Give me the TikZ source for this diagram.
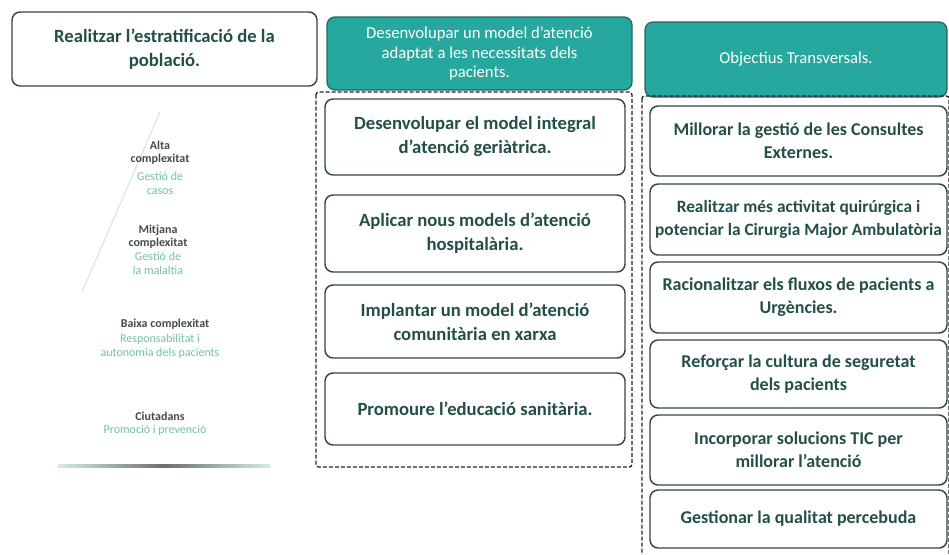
\documentclass[tikz,border=0pt]{standalone}
\usepackage{fontspec}
\setmainfont{Carlito}
\usepackage{tikz}
\usetikzlibrary{calc}

\definecolor{tealhead}{RGB}{38,168,158}
\definecolor{tealedge}{RGB}{45,100,95}
\definecolor{boxline}{RGB}{50,72,68}
\definecolor{goaltext}{RGB}{35,78,74}
\definecolor{pyrgrey}{RGB}{70,75,75}
\definecolor{pyrgreen}{RGB}{110,195,160}

\begin{document}
\begin{tikzpicture}[x=0.75pt,y=-0.75pt,
    goal/.style={draw=boxline, line width=1.1pt, rounded corners=6pt, fill=white,
      align=center, text=goaltext, minimum width=225pt,
      font=\bfseries\fontsize{14}{18}\selectfont},
    sidegoal/.style={goal, minimum width=222.75pt, font=\bfseries\fontsize{13.5}{17.5}\selectfont},
    header/.style={draw=tealedge, line width=1pt, rounded corners=6pt, fill=tealhead,
      align=center, text=white, font=\fontsize{12.5}{14.5}\selectfont},
    frame/.style={draw=black!85, line width=1pt, dash pattern=on 3pt off 1.5pt, rounded corners=2pt},
    pyrbold/.style={text=pyrgrey, font=\bfseries\fontsize{9}{10}\selectfont, align=center},
    pyrsub/.style={text=pyrgreen, font=\fontsize{9}{10.5}\selectfont, align=center}]
    \useasboundingbox (0,0) rectangle (949,554);

    \node[goal, minimum width=228.75pt, minimum height=55.5pt] (estrat) at (164.5,49)
      {Realitzar l'estratificació de la\\població.};

    \draw[black!12, line width=0.8pt] (160,112) -- (82,292);
    \node[pyrbold] (altatit) at (160,153) {Alta\\complexitat};
    \node[pyrsub] (altasub) at (160,183) {Gestió de\\casos};
    \node[pyrbold] (mitjtit) at (158,237) {Mitjana\\complexitat};
    \node[pyrsub] (mitjsub) at (158,263) {Gestió de\\la malaltia};
    \node[pyrbold] (baixtit) at (165,324) {Baixa complexitat};
    \node[pyrsub] (baixsub) at (160,346) {Responsabilitat i\\autonomia dels pacients};
    \node[pyrbold] (ciutit) at (160,416) {Ciutadans};
    \node[pyrsub] (ciusub) at (155,430) {Promoció i prevenció};
    \shade[left color=pyrgreen!30, right color=pyrgreen!30, middle color=pyrgrey!80]
      (58,464.5) rectangle (270,467);

    \node[header, minimum width=228.75pt, minimum height=54.75pt] (modelhd) at (479.5,53.5)
      {Desenvolupar un model d'atenció\\adaptat a les necessitats dels\\pacients.};
    \draw[frame] (316,92) rectangle (632,467);
    \node[goal, minimum height=57pt] (geriat) at (475,137)
      {Desenvolupar el model integral\\d'atenció geriàtrica.};
    \node[goal, minimum height=57.75pt] (hospit) at (475,233.5)
      {Aplicar nous models d'atenció\\hospitalària.};
    \node[goal, minimum height=54.75pt] (comunit) at (475,321.5)
      {Implantar un model d'atenció\\comunitària en xarxa};
    \node[goal, minimum height=54pt] (educ) at (475,409)
      {Promoure l'educació sanitària.};

    \node[header, minimum width=226.5pt, minimum height=56.25pt] (transhd) at (796,59.5)
      {Objectius Transversals.};
    \draw[frame] (642,96) rectangle (949,570);
    \node[sidegoal, minimum height=52.5pt] (consult) at (798.5,141)
      {Millorar la gestió de les Consultes\\Externes.};
    \node[sidegoal, minimum height=53.25pt, inner xsep=0pt,
      font=\bfseries\fontsize{13}{17.5}\selectfont] (quirurg) at (798.5,219.5)
      {Realitzar més activitat quirúrgica i\\potenciar la Cirurgia Major Ambulatòria};
    \node[sidegoal, minimum height=53.25pt] (urgenc) at (798.5,297.5)
      {Racionalitzar els fluxos de pacients a\\Urgències.};
    \node[sidegoal, minimum height=51pt] (segur) at (798.5,374)
      {Reforçar la cultura de seguretat\\dels pacients};
    \node[sidegoal, minimum height=52.5pt] (tic) at (798.5,450)
      {Incorporar solucions TIC per\\millorar l'atenció};
    \node[sidegoal, minimum height=43.5pt] (qualit) at (798.5,519)
      {Gestionar la qualitat percebuda};
  \end{tikzpicture}
\end{document}
